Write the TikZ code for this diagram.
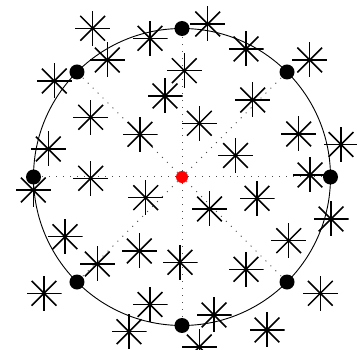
\documentclass[tikz,border=0pt]{standalone}
\usetikzlibrary{calc}
\begin{document}
\begin{tikzpicture}[x=1pt,y=-1pt,
 dot/.style={circle,fill=black,minimum size=15pt,inner sep=0pt},
 hub/.style={circle,fill=red,minimum size=12pt,inner sep=0pt},
 spoke/.style={black!70,line width=1pt,dash pattern=on 1pt off 6pt},
 asterisk/.style={minimum size=35pt,inner sep=0pt,path picture={
   \foreach \a in {0,45,...,315}
     \draw[line width=1.5pt] (path picture bounding box.center) -- ++(\a:17.5pt);}}
]
\useasboundingbox (0,0) rectangle (357,350);
\node[hub] (c) at (182,177) {};
\draw[line width=0.9pt] (c) circle[radius=148.5pt];
\foreach \a [count=\i] in {0,45,...,315}
  \node[dot] (d\i) at ($(c)+(\a:148.5)$) {};
\foreach \i in {1,...,8}
  \draw[spoke] (c) -- (d\i);
% scattered asterisks
\foreach \x/\y [count=\i] in {92.7/28.3,150/38.3,107.3/60,54.3/81,165/96,90.7/117.3,140/134.3,
  48.3/149,184.3/70.7,207.7/24,246/49,309.7/60,252.7/100,199.3/123.3,298.7/134,235.5/155.5,
  341/144.5,310/175,33.3/190,90.7/178.3,145.7/197.7,65/236.7,139.3/251,97.3/264,180/262.3,
  44/293.3,150/304.5,129/331.7,209.5/209,257/198.3,331/219,288.7/240.7,246/269.3,320.3/293.3,
  214/315,267/330,199.3/347}
  \node[asterisk] (s\i) at (\x,\y) {};
\end{tikzpicture}
\end{document}
